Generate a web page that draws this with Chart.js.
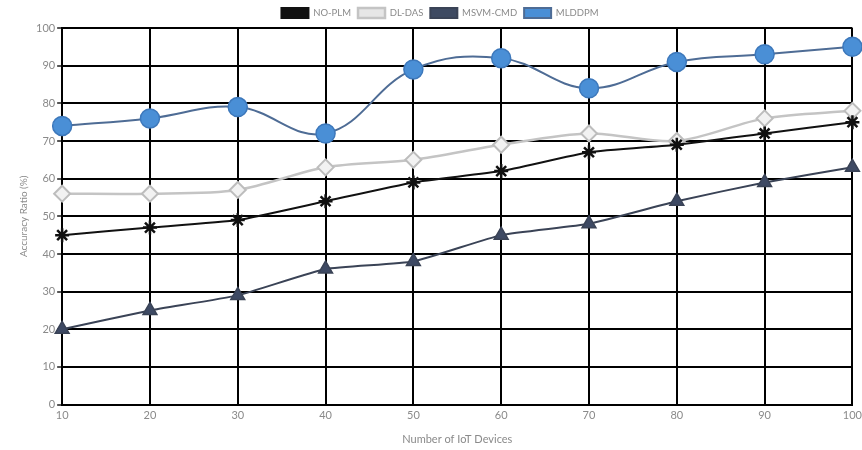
<!DOCTYPE html>
<html>
<head>
<meta charset="utf-8">
<script src="https://cdn.jsdelivr.net/npm/chart.js@4/dist/chart.umd.min.js"></script>
<style>
  html, body { margin: 0; padding: 0; background: #fff; overflow: hidden; }
  #wrap { width: 866px; height: 450px; position: relative; }
</style>
</head>
<body>
<div id="wrap"><canvas id="c"></canvas></div>
<script>
// Accuracy ratio (%) of each method against the number of IoT devices
const devices = [10, 20, 30, 40, 50, 60, 70, 80, 90, 100];
const noPlm   = [45, 47, 49, 54, 59, 62, 67, 69, 72, 75];
const dlDas   = [56, 56, 57, 63, 65, 69, 72, 70, 76, 78];
const msvmCmd = [20, 25, 29, 36, 38, 45, 48, 54, 59, 63];
const mlddpm  = [74, 76, 79, 72, 89, 92, 84, 91, 93, 95];
const yTicks  = [0, 10, 20, 30, 40, 50, 60, 70, 80, 90, 100];

const textGray = '#8a8a8a';
Chart.defaults.font.family = 'Lato, "Open Sans", sans-serif';
Chart.defaults.color = textGray;

new Chart(document.getElementById('c'), {
  type: 'line',
  data: {
    labels: devices.map(String),
    datasets: [
      {
        label: 'NO-PLM',
        data: noPlm,
        borderColor: '#111111',
        backgroundColor: '#111111',
        borderWidth: 2,
        tension: 0.15,
        pointStyle: 'star',
        pointRadius: 7,
        pointBorderWidth: 2.5,
        pointBorderColor: '#111111'
      },
      {
        label: 'DL-DAS',
        data: dlDas,
        borderColor: '#c4c4c4',
        backgroundColor: '#e6e6e6',
        borderWidth: 2.5,
        tension: 0.3,
        pointStyle: 'rectRot',
        pointRadius: 8,
        pointBorderWidth: 2,
        pointBackgroundColor: '#f2f2f2',
        pointBorderColor: '#bdbdbd'
      },
      {
        label: 'MSVM-CMD',
        data: msvmCmd,
        borderColor: '#3a4356',
        backgroundColor: '#3e4a62',
        borderWidth: 2,
        tension: 0.15,
        pointStyle: 'triangle',
        pointRadius: 8,
        pointBorderWidth: 1.5,
        pointBackgroundColor: '#3e4a64',
        pointBorderColor: '#3a4356'
      },
      {
        label: 'MLDDPM',
        data: mlddpm,
        borderColor: '#4e6c95',
        backgroundColor: '#4a8fd6',
        borderWidth: 2,
        tension: 0.4,
        pointStyle: 'circle',
        pointRadius: 9.5,
        pointBorderWidth: 1.5,
        pointBackgroundColor: '#4a8fd6',
        pointBorderColor: '#3d78bb'
      }
    ]
  },
  options: {
    responsive: true,
    maintainAspectRatio: false,
    animation: false,
    layout: { padding: { left: 14, right: 0, top: 1, bottom: 0 } },
    plugins: {
      legend: {
        position: 'top',
        labels: {
          boxWidth: 27,
          boxHeight: 10,
          padding: 7,
          font: { size: 9.5 },
          color: textGray
        }
      },
      tooltip: { enabled: false }
    },
    scales: {
      x: {
        offset: false,
        grid: { color: '#000', lineWidth: 2, drawTicks: false },
        border: { color: '#000', width: 2 },
        ticks: { font: { size: 11 }, color: textGray, padding: 4, maxRotation: 0 },
        title: { display: true, text: 'Number of IoT Devices', font: { size: 11 }, color: textGray, padding: { top: 7 } }
      },
      y: {
        min: 0,
        max: 100,
        afterBuildTicks: (axis) => { axis.ticks = yTicks.map(v => ({ value: v })); },
        grid: { color: '#000', lineWidth: 2, tickLength: 5, tickColor: '#555' },
        border: { color: '#000', width: 2 },
        ticks: { font: { size: 11 }, color: textGray, padding: 2 },
        title: { display: true, text: 'Accuracy Ratio (%)', font: { size: 10 }, color: textGray, padding: { bottom: 4 } }
      }
    }
  }
});
</script>
</body>
</html>
